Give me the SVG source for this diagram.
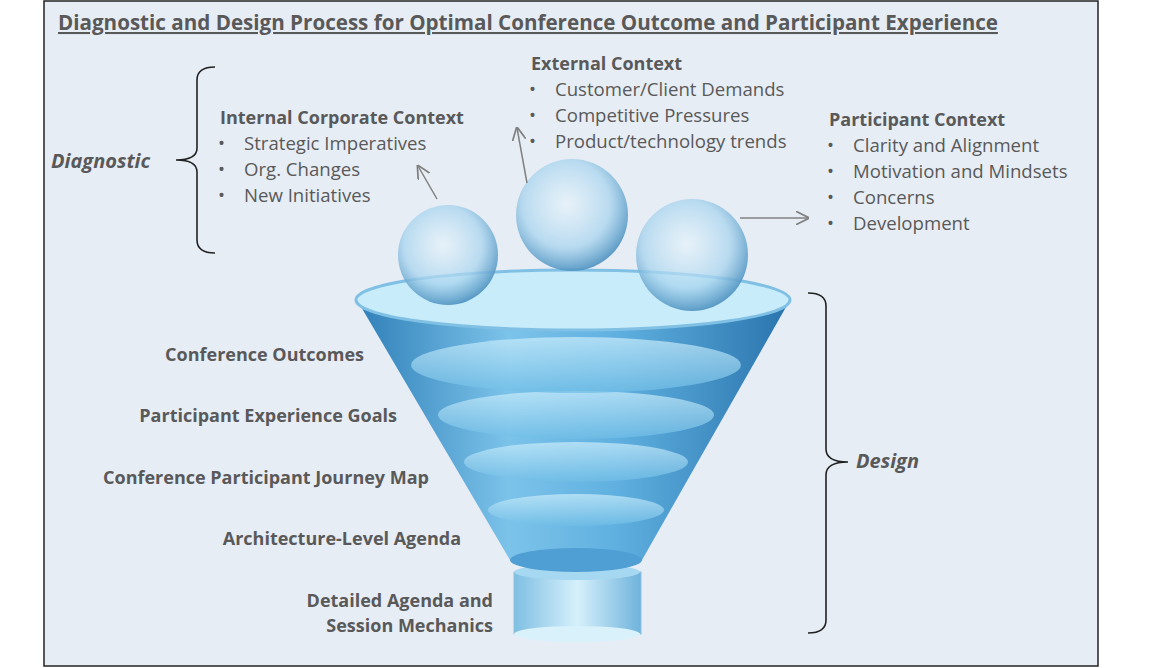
<svg xmlns="http://www.w3.org/2000/svg" width="1151" height="668" viewBox="0 0 1151 668">
<style>
.t{font-family:"Open Sans","Liberation Sans",sans-serif;fill:#595959;font-size:18.6px}
.b{font-weight:bold;font-size:18px}
.i{font-weight:bold;font-style:italic;font-size:20px}
.br{fill:none;stroke:#222;stroke-width:1.6}
.ar{stroke:#808080;stroke-width:1.5;fill:none;marker-end:url(#ah)}
</style>
<defs>
<marker id="ah" viewBox="0 0 10 10" refX="9" refY="5" markerWidth="9" markerHeight="9" orient="auto"><path d="M0,0 L10,5 L0,10" fill="none" stroke="#808080" stroke-width="1.3"/></marker>
<linearGradient id="fun" x1="0" x2="1"><stop offset="0" stop-color="#2f7fb8"/><stop offset="0.35" stop-color="#7cc3ea"/><stop offset="0.6" stop-color="#5fb0e0"/><stop offset="1" stop-color="#2a74ad"/></linearGradient>
<linearGradient id="lay" x1="0" y1="0" x2="0" y2="1"><stop offset="0" stop-color="#cdeefb"/><stop offset="1" stop-color="#6fbde6"/></linearGradient>
<radialGradient id="sph" cx="0.45" cy="0.4" r="0.65"><stop offset="0" stop-color="#e6f4fb" stop-opacity="0.6"/><stop offset="0.6" stop-color="#a8d4ee" stop-opacity="0.75"/><stop offset="1" stop-color="#3d86b8" stop-opacity="0.95"/></radialGradient>
<linearGradient id="cyl" x1="0" x2="1"><stop offset="0" stop-color="#7fbfe3"/><stop offset="0.5" stop-color="#d6f0fb"/><stop offset="1" stop-color="#6fb3dc"/></linearGradient>
</defs>
<rect x="44" y="1" width="1054" height="665" fill="#e7edf5" stroke="#222" stroke-width="1.5"/>
<text class="t" x="58" y="30" style="font-size:20.6px;font-weight:bold" text-decoration="underline">Diagnostic and Design Process for Optimal Conference Outcome and Participant Experience</text>
<g id="funnel">
<rect x="514" y="572" width="127" height="62" fill="url(#cyl)" stroke="#8fc3e2"/>
<ellipse cx="577" cy="634" rx="63" ry="8" fill="#d8f1fb"/>
<ellipse cx="577" cy="572" rx="63" ry="8" fill="#a7d8f1"/>
<path d="M357,300 L510,560 A67,12 0 0 0 642,560 L790,300 Z" fill="url(#fun)"/>
<ellipse cx="576" cy="560" rx="66" ry="12" fill="#4f9fd4"/>
<ellipse cx="576" cy="510" rx="88" ry="16" fill="url(#lay)" opacity="0.7"/>
<ellipse cx="576" cy="462" rx="112" ry="20" fill="url(#lay)" opacity="0.7"/>
<ellipse cx="576" cy="415" rx="138" ry="24" fill="url(#lay)" opacity="0.7"/>
<ellipse cx="576" cy="365" rx="165" ry="28" fill="url(#lay)" opacity="0.7"/>
<ellipse cx="573" cy="300" rx="217" ry="30" fill="#c8ecfa" stroke="#7fc0e4" stroke-width="3"/>
</g>
<g id="spheres">
<circle cx="448" cy="255" r="50" fill="url(#sph)"/>
<circle cx="572" cy="215" r="56" fill="url(#sph)"/>
<circle cx="692" cy="255" r="56" fill="url(#sph)"/>
</g>
<g id="connectors">
<line class="ar" x1="437" y1="199" x2="418" y2="166"/>
<line class="ar" x1="527" y1="183" x2="517" y2="128"/>
<line class="ar" x1="740" y1="218" x2="808" y2="218"/>
<path class="br" d="M215,67 Q197,67 197,80 L197,148 Q197,160 176,160 Q197,160 197,172 L197,240 Q197,253 215,253"/>
<path class="br" d="M808,293 Q826,293 826,306 L826,449 Q826,462 848,462 Q826,462 826,475 L826,620 Q826,633 808,633"/>
</g>
<g id="diagnostic"><text class="t i" x="51" y="168">Diagnostic</text></g>
<g id="design"><text class="t i" x="856" y="468">Design</text></g>
<g id="internal">
<text class="t b" x="220" y="124">Internal Corporate Context</text>
<text class="t" x="218" y="150">•<tspan x="244">Strategic Imperatives</tspan></text>
<text class="t" x="218" y="176">•<tspan x="244">Org. Changes</tspan></text>
<text class="t" x="218" y="202">•<tspan x="244">New Initiatives</tspan></text>
</g>
<g id="external">
<text class="t b" x="531" y="70">External Context</text>
<text class="t" x="529" y="96">•<tspan x="555">Customer/Client Demands</tspan></text>
<text class="t" x="529" y="122">•<tspan x="555">Competitive Pressures</tspan></text>
<text class="t" x="529" y="148">•<tspan x="555">Product/technology trends</tspan></text>
</g>
<g id="participant">
<text class="t b" x="829" y="126">Participant Context</text>
<text class="t" x="827" y="152">•<tspan x="853">Clarity and Alignment</tspan></text>
<text class="t" x="827" y="178">•<tspan x="853">Motivation and Mindsets</tspan></text>
<text class="t" x="827" y="204">•<tspan x="853">Concerns</tspan></text>
<text class="t" x="827" y="230">•<tspan x="853">Development</tspan></text>
</g>
<g id="levels" text-anchor="end">
<text class="t b" x="364" y="361">Conference Outcomes</text>
<text class="t b" x="397" y="422">Participant Experience Goals</text>
<text class="t b" x="429" y="484">Conference Participant Journey Map</text>
<text class="t b" x="461" y="545">Architecture-Level Agenda</text>
<text class="t b" x="493" y="607">Detailed Agenda and</text>
<text class="t b" x="493" y="632">Session Mechanics</text>
</g>
</svg>
